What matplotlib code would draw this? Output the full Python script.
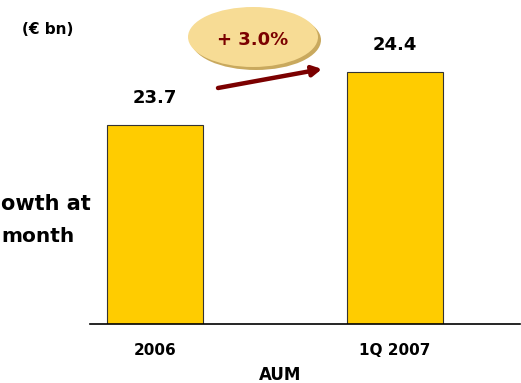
import matplotlib.pyplot as plt
from matplotlib.patches import Ellipse

# data
CATEGORIES = ['2006', '1Q 2007']
AUM_VALUES = [23.7, 24.4]
GROWTH_LABEL = '+ 3.0%'

BAR_COLOR = '#FFCC00'
DARK_RED = '#7B0000'
W, H = 521, 383


def fx(px):
    return px / W


def fy(py):
    return 1 - py / H


fig = plt.figure(figsize=(W / 100, H / 100), dpi=100)
ax = fig.add_axes([fx(90), fy(324), fx(520) - fx(90), fy(0) - fy(324)])

x = range(len(CATEGORIES))
ax.bar(x, AUM_VALUES, width=0.4, color=BAR_COLOR, edgecolor='#333333', linewidth=0.8)

# value labels over each bar
for xi, v in zip(x, AUM_VALUES):
    ax.annotate(f'{v:.1f}', (xi, v), xytext=(0, 13), textcoords='offset points',
                ha='center', va='bottom', fontsize=13, fontweight='bold')

ax.set_xlim(-0.271, 1.521)
ax.set_ylim(21.07, 25.35)
ax.set_xticks(list(x))
ax.set_xticklabels(CATEGORIES, fontsize=11, fontweight='bold')
ax.tick_params(axis='x', length=0, pad=14)
ax.set_yticks([])
for side in ['top', 'left', 'right']:
    ax.spines[side].set_visible(False)
ax.spines['bottom'].set_linewidth(1.2)

#growth bubble with a shadow
shadow = Ellipse((fx(256), fy(40)), 130 / W, 60 / H, transform=fig.transFigure,
                 facecolor='#C9A95E', edgecolor='none', zorder=3)
bubble = Ellipse((fx(253), fy(37)), 130 / W, 60 / H, transform=fig.transFigure,
                 facecolor='#F7DC95', edgecolor='none', zorder=4)
fig.patches.extend([shadow, bubble])
fig.text(fx(253), fy(40), GROWTH_LABEL, ha='center', va='center', fontsize=13,
         fontweight='bold', color=DARK_RED, zorder=5)

#arrow between the bars
ax.annotate('', xy=(fx(322), fy(69)), xytext=(fx(218), fy(88)),
            xycoords='figure fraction', textcoords='figure fraction',
            arrowprops=dict(arrowstyle='-|>,head_length=0.55,head_width=0.3',
                            color=DARK_RED, lw=3.2, shrinkA=0, shrinkB=0))

fig.text(fx(22), fy(30), '(€ bn)', ha='left', va='center', fontsize=11, fontweight='bold')
fig.text(fx(280), fy(375), 'AUM', ha='center', va='center', fontsize=12, fontweight='bold')

# side text, only the part visible in the reference
fig.text(fx(1), fy(204), 'owth at', ha='left', va='center', fontsize=15, fontweight='bold')
fig.text(fx(1), fy(237), 'month', ha='left', va='center', fontsize=14.5, fontweight='bold')

fig.savefig('out.png', dpi=100)
